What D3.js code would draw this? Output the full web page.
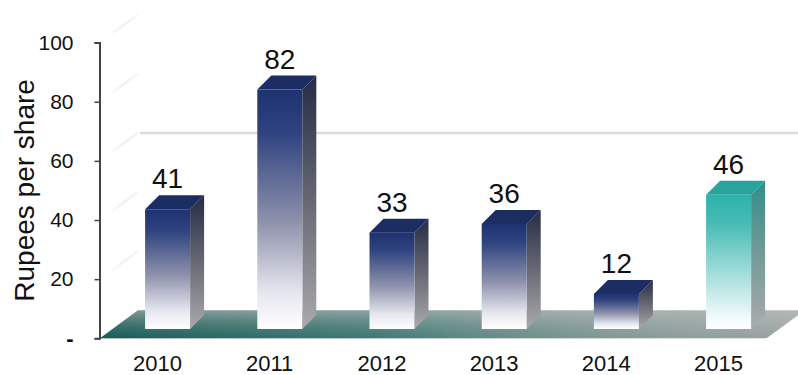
<!DOCTYPE html>
<html>
<head>
<meta charset="utf-8">
<script src="https://cdn.jsdelivr.net/npm/d3@7"></script>
<style>
  body { margin: 0; background: #fff; }
  svg { display: block; }
  text { font-family: "Liberation Sans", Arial, sans-serif; fill: #111; }
</style>
</head>
<body>
<svg id="chart" width="798" height="375"></svg>
<script>
// Dividend per share by year
const years = ["2010", "2011", "2012", "2013", "2014", "2015"];
const dividends = [41, 82, 33, 36, 12, 46];
const yTicks = [0, 20, 40, 60, 80, 100];
const backGridValues = [60];
const yTitle = "Rupees per share";
const highlightYear = "2015";

const svg = d3.select("#chart");
const defs = svg.append("defs");

// scales: axis values on the front edge, bars set back into the floor
const x = d3.scaleBand().domain(years).range([101.4, 774.6]).padding(0);
const y = d3.scaleLinear().domain([0, 100]).range([338.3, 42.6]);
const yBar = d3.scaleLinear().domain([0, 100]).range([329, 37]);

const floorDepth = { dx: 38, dy: -28 };
const barDepth = { dx: 14, dy: -14 };
const barWidth = 45;
const barShift = -12.4;   // front face offset from the band centre

function vGrad(id, stops) {
  const g = defs.append("linearGradient").attr("id", id)
    .attr("x1", 0).attr("y1", 0).attr("x2", 0).attr("y2", 1);
  stops.forEach(([o, c]) => g.append("stop").attr("offset", o).attr("stop-color", c));
}
vGrad("frontNavy", [[0, "#1d3270"], [0.18, "#2f4380"], [0.55, "#8d91ab"], [0.85, "#e6e7ef"], [1, "#ffffff"]]);
vGrad("sideNavy", [[0, "#252b46"], [0.45, "#60636f"], [1, "#aaaaac"]]);
vGrad("frontTeal", [[0, "#2db2ac"], [0.2, "#45bab5"], [0.6, "#a6dedb"], [0.9, "#eef9f9"], [1, "#ffffff"]]);
vGrad("sideTeal", [[0, "#2f8f8a"], [0.45, "#6f9896"], [1, "#a9acac"]]);

// floor shading: grey slab with a teal wash that is strongest at front-left
const floorBase = defs.append("linearGradient").attr("id", "floorBase")
  .attr("gradientUnits", "userSpaceOnUse")
  .attr("x1", 0).attr("y1", y(0) + floorDepth.dy).attr("x2", 0).attr("y2", y(0));
floorBase.append("stop").attr("offset", 0).attr("stop-color", "#b2b8b7");
floorBase.append("stop").attr("offset", 1).attr("stop-color", "#9aa2a1");

const floorTeal = defs.append("linearGradient").attr("id", "floorTeal")
  .attr("gradientUnits", "userSpaceOnUse")
  .attr("x1", 100).attr("y1", 0).attr("x2", 790).attr("y2", 0);
[[0, "#175b56", 1], [0.4, "#276f69", 0.8], [0.72, "#4b837e", 0.35], [1, "#6a8f8c", 0]]
  .forEach(([o, c, a]) => floorTeal.append("stop").attr("offset", o)
    .attr("stop-color", c).attr("stop-opacity", a));

const maskGrad = defs.append("linearGradient").attr("id", "floorMaskGrad")
  .attr("gradientUnits", "userSpaceOnUse")
  .attr("x1", 0).attr("y1", y(0) + floorDepth.dy).attr("x2", 0).attr("y2", y(0));
maskGrad.append("stop").attr("offset", 0).attr("stop-color", "#555");
maskGrad.append("stop").attr("offset", 0.5).attr("stop-color", "#bbb");
maskGrad.append("stop").attr("offset", 1).attr("stop-color", "#fff");
defs.append("mask").attr("id", "floorMask")
  .append("rect").attr("x", 0).attr("y", 0).attr("width", 798).attr("height", 375)
  .attr("fill", "url(#floorMaskGrad)");

const x0 = x.range()[0] - 1.4, x1 = x.range()[1] - 8;

// side-wall gridlines (very faint, fading toward the axis)
const wallGrad = defs.append("linearGradient").attr("id", "wallLine")
  .attr("x1", 0).attr("y1", 0).attr("x2", 1).attr("y2", 0);
wallGrad.append("stop").attr("offset", 0).attr("stop-color", "#eeeeee").attr("stop-opacity", 0);
wallGrad.append("stop").attr("offset", 0.5).attr("stop-color", "#eeeeee").attr("stop-opacity", 0.9);
wallGrad.append("stop").attr("offset", 1).attr("stop-color", "#eeeeee").attr("stop-opacity", 0.5);
svg.append("g").selectAll("path").data(yTicks.filter(d => d > 0)).join("path")
  .attr("d", d => `M${x0 + 8},${y(d) - 6}L${x0 + floorDepth.dx},${y(d) + floorDepth.dy}`)
  .attr("stroke", "url(#wallLine)").attr("stroke-width", 2.5).attr("fill", "none");

// back-wall gridline
svg.append("g").selectAll("line").data(backGridValues).join("line")
  .attr("x1", x0 + floorDepth.dx + 2).attr("x2", 798)
  .attr("y1", d => y(d) + floorDepth.dy).attr("y2", d => y(d) + floorDepth.dy)
  .attr("stroke", "#dcdcdc").attr("stroke-width", 2.5);

// floor
const floorPts = [
  [x0, y(0)],
  [x0 + floorDepth.dx, y(0) + floorDepth.dy],
  [x1 + floorDepth.dx, y(0) + floorDepth.dy],
  [x1, y(0)]
].map(p => p.join(",")).join(" ");
svg.append("polygon").attr("points", floorPts).attr("fill", "url(#floorBase)");
svg.append("polygon").attr("points", floorPts).attr("fill", "url(#floorTeal)")
  .attr("mask", "url(#floorMask)");

// bars
const data = years.map((yr, i) => ({ year: yr, value: dividends[i] }));
const bars = svg.append("g").selectAll("g").data(data).join("g");

const fl = d => x(d.year) + x.bandwidth() / 2 + barShift;
const fr = d => fl(d) + barWidth;
const hi = d => d.year === highlightYear;

bars.append("polygon") // side face
  .attr("points", d => {
    const t = yBar(d.value), b = yBar(0);
    return [[fr(d), t], [fr(d) + barDepth.dx, t + barDepth.dy],
            [fr(d) + barDepth.dx, b + barDepth.dy], [fr(d), b]].map(p => p.join(",")).join(" ");
  })
  .attr("fill", d => hi(d) ? "url(#sideTeal)" : "url(#sideNavy)");

bars.append("polygon") // top face
  .attr("points", d => {
    const t = yBar(d.value);
    return [[fl(d), t], [fl(d) + barDepth.dx, t + barDepth.dy],
            [fr(d) + barDepth.dx, t + barDepth.dy], [fr(d), t]].map(p => p.join(",")).join(" ");
  })
  .attr("fill", d => hi(d) ? "#29a39d" : "#1c2d63");

bars.append("rect") // front face
  .attr("x", fl).attr("width", barWidth)
  .attr("y", d => yBar(d.value)).attr("height", d => yBar(0) - yBar(d.value))
  .attr("fill", d => hi(d) ? "url(#frontTeal)" : "url(#frontNavy)");

// value labels
bars.append("text")
  .attr("x", d => fl(d) + barWidth / 2)
  .attr("y", d => yBar(d.value) - 21)
  .attr("text-anchor", "middle")
  .attr("font-size", 28)
  .text(d => d.value);

// y axis
const yAxis = svg.append("g").attr("transform", "translate(99.5,0)")
  .call(d3.axisLeft(y).tickValues(yTicks).tickSizeOuter(0).tickSize(5).tickPadding(21)
    .tickFormat(d => d === 0 ? "-" : d));
yAxis.select(".domain").attr("stroke", "#444").attr("stroke-width", 2);
yAxis.selectAll(".tick line").attr("stroke", "#444").attr("stroke-width", 1.5);
yAxis.selectAll(".tick text").attr("font-size", 21).attr("fill", "#111")
  .attr("font-family", "Liberation Sans, Arial, sans-serif");
yAxis.selectAll(".tick").filter(d => d === 0).select("text")
  .attr("font-weight", "bold").attr("font-size", 22);

// x axis labels
const xAxis = svg.append("g").attr("transform", `translate(0,${y(0)})`)
  .call(d3.axisBottom(x).tickSize(0).tickPadding(17.5));
xAxis.select(".domain").remove();
xAxis.selectAll(".tick text").attr("font-size", 22).attr("fill", "#111")
  .attr("font-family", "Liberation Sans, Arial, sans-serif");

// axis title
svg.append("text")
  .attr("transform", `translate(33.5,${(y(0) + y(100)) / 2}) rotate(-90)`)
  .attr("text-anchor", "middle")
  .attr("font-size", 28)
  .text(yTitle);
</script>
</body>
</html>
